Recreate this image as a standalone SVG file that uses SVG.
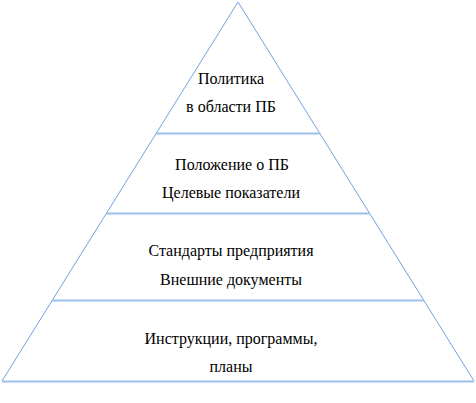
<svg xmlns="http://www.w3.org/2000/svg" width="476" height="403" viewBox="0 0 476 403">
<style>
.side{stroke:#6fa3e0;stroke-width:1;fill:none}
.lvl{stroke:#9cc0ea;stroke-width:2;fill:none}
text{font-family:"Liberation Serif","Times New Roman",serif;font-size:16px;fill:#000;text-anchor:middle}
</style>
<rect width="476" height="403" fill="#fff"/>
<g id="connectors">
<line class="side" x1="238" y1="2" x2="2" y2="381"/>
<line class="side" x1="238" y1="2" x2="474" y2="381"/>
<line class="lvl" x1="156" y1="133.5" x2="320" y2="133.5"/>
<line class="lvl" x1="106" y1="213.5" x2="370" y2="213.5"/>
<line class="lvl" x1="52" y1="300.5" x2="424" y2="300.5"/>
<line class="lvl" x1="2" y1="381.5" x2="474" y2="381.5"/>
</g>
<g id="level1">
<text x="231" y="83.5">Политика</text>
<text x="231" y="111.5">в области ПБ</text>
</g>
<g id="level2">
<text x="232" y="169.5">Положение о ПБ</text>
<text x="231" y="197.5">Целевые показатели</text>
</g>
<g id="level3">
<text x="231" y="255.5">Стандарты предприятия</text>
<text x="231" y="284.5">Внешние документы</text>
</g>
<g id="level4">
<text x="231" y="343.5">Инструкции, программы,</text>
<text x="231" y="371.5">планы</text>
</g>
</svg>
